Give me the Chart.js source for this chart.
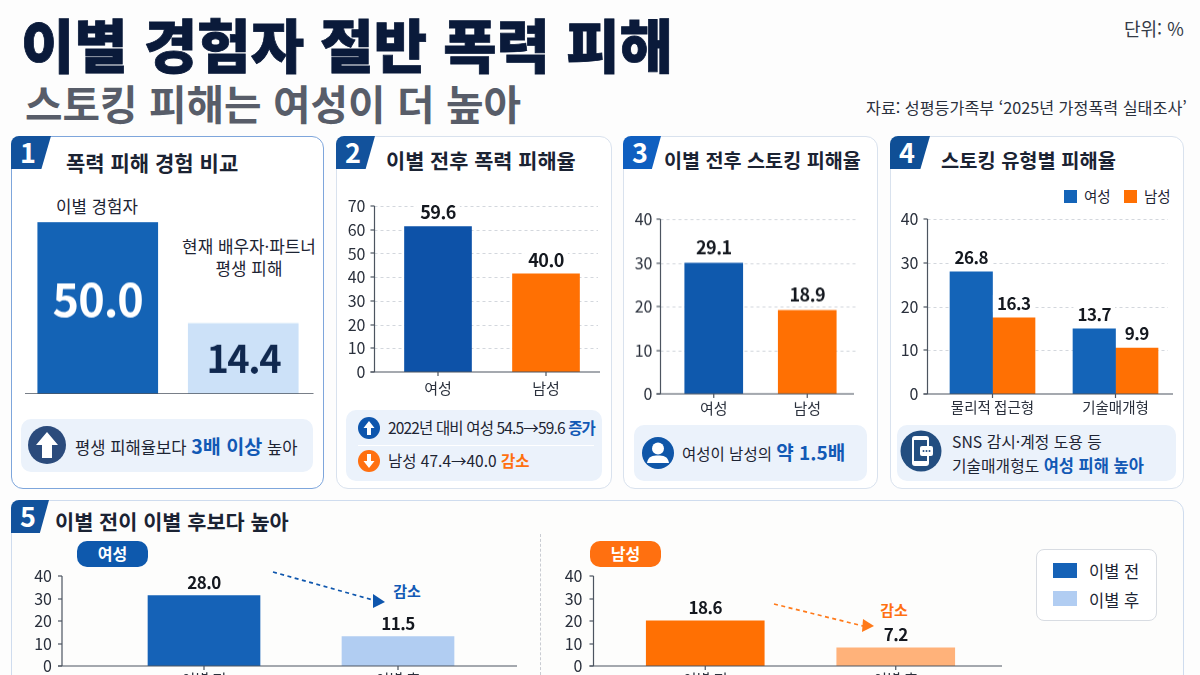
<!DOCTYPE html>
<html lang="ko">
<head>
<meta charset="utf-8">
<title>이별 경험자 절반 폭력 피해</title>
<script src="https://cdn.jsdelivr.net/npm/chart.js@4"></script>
<style>
  * { box-sizing: border-box; }
  html, body { margin: 0; padding: 0; }
  body {
    position: relative; width: 1200px; height: 675px; overflow: hidden;
    background: #fdfdfd; color: #1d2433;
    font-family: "Noto Sans CJK KR", "Noto Sans", sans-serif;
  }
  canvas { position: absolute; }
  .t { position: absolute; white-space: nowrap; line-height: 1; transform: translateY(-50%); }
  .c { position: absolute; white-space: nowrap; line-height: 1; transform: translate(-50%, -50%); text-align: center; }
  .panel { position: absolute; background: #fff; border: 1.5px solid #d9e2ee; border-radius: 12px; }
  .callout { position: absolute; background: #ebf2fb; border-radius: 10px; }
  .badge {
    position: absolute; height: 33px; color: #fff; font-weight: 700; font-size: 27px;
    background: #12529c; border-radius: 8px 0 6px 0;
    clip-path: polygon(0 0, 100% 0, 76% 100%, 0 100%);
    padding-left: 9px; line-height: 31px;
  }
  .ptitle { font-weight: 700; color: #1b2333; }
  .blue { color: #1259b5; font-weight: 700; }
  .orange { color: #ff7010; font-weight: 700; }
  .pill { position: absolute; height: 26px; width: 71px; border-radius: 10px; color: #fff; font-weight: 700; font-size: 16px; text-align: center; line-height: 25px; }
  svg { position: absolute; overflow: visible; }
</style>
</head>
<body>

<!-- 머리글 -->
<div class="t" style="left:21px;top:43px;font-size:58px;font-weight:900;color:#0a1a3a;-webkit-text-stroke:0.8px #0a1a3a">이별 경험자 절반 폭력 피해</div>
<div class="t" style="left:25px;top:103px;font-size:40.8px;font-weight:600;color:#585d69">스토킹 피해는 여성이 더 높아</div>
<div class="t" style="left:1124px;top:28px;font-size:18px;color:#333a46">단위: %</div>
<div class="t" style="left:866px;top:107px;font-size:16.2px;color:#2a303c">자료: 성평등가족부 ‘2025년 가정폭력 실태조사’</div>

<!-- 패널 틀 -->
<div class="panel" style="left:11px;top:136px;width:313px;height:353px;border-color:#7ea6dc"></div>
<div class="panel" style="left:336px;top:136px;width:276px;height:353px"></div>
<div class="panel" style="left:623px;top:136px;width:255px;height:353px"></div>
<div class="panel" style="left:890px;top:136px;width:294px;height:353px"></div>
<div class="panel" style="left:11px;top:500px;width:1173px;height:220px;background:#fdfdfc;border-color:#cfdcee"></div>

<div class="badge" style="left:11px;top:136px;width:40px">1</div>
<div class="badge" style="left:336px;top:136px;width:39px">2</div>
<div class="badge" style="left:623px;top:136px;width:38px;background:#0f5fc0">3</div>
<div class="badge" style="left:890px;top:136px;width:40px;background:#0f4f96">4</div>
<div class="badge" style="left:11px;top:500px;width:38px">5</div>

<div class="t ptitle" style="left:66px;top:162px;font-size:21px">폭력 피해 경험 비교</div>
<div class="t ptitle" style="left:386px;top:160px;font-size:20.8px">이별 전후 폭력 피해율</div>
<div class="t ptitle" style="left:664px;top:160px;font-size:19.6px">이별 전후 스토킹 피해율</div>
<div class="t ptitle" style="left:941px;top:160px;font-size:19.8px">스토킹 유형별 피해율</div>
<div class="t ptitle" style="left:55px;top:521px;font-size:20.8px">이별 전이 이별 후보다 높아</div>

<!-- 패널 1 -->
<div class="c" style="left:97px;top:206px;font-size:16.8px">이별 경험자</div>
<div class="c" style="left:249px;top:246px;font-size:16.9px">현재 배우자·파트너</div>
<div class="c" style="left:249px;top:268px;font-size:16.9px">평생 피해</div>
<div class="callout" style="left:21px;top:419px;width:292px;height:53px"></div>
<svg style="left:28px;top:426px" width="38" height="38" viewBox="0 0 38 38"><circle cx="19" cy="19" r="19" fill="#2b4b7c"/><path d="M19 6 L30 19 H24 V32 H14 V19 H8 Z" fill="#fff"/></svg>
<div class="t" style="left:75px;top:446px;font-size:16.6px">평생 피해율보다 <span class="blue" style="font-size:19.6px">3배 이상</span> 높아</div>

<!-- 패널 2 -->
<div class="callout" style="left:346px;top:410px;width:256px;height:71px"></div>
<div style="position:absolute;left:358px;top:445px;width:236px;height:1px;background:#fff"></div>
<svg style="left:358px;top:417px" width="22" height="22" viewBox="0 0 22 22"><circle cx="11" cy="11" r="11" fill="#0e56ad"/><path d="M11 4 L16.5 11 H13 V18 H9 V11 H5.5 Z" fill="#fff"/></svg>
<div class="t" style="left:388px;top:428px;font-size:15.5px;letter-spacing:-0.85px">2022년 대비 여성 54.5→59.6 <span class="blue">증가</span></div>
<svg style="left:358px;top:450px" width="22" height="22" viewBox="0 0 22 22"><circle cx="11" cy="11" r="11" fill="#ff7010"/><path d="M11 18 L16.5 11 H13 V4 H9 V11 H5.5 Z" fill="#fff"/></svg>
<div class="t" style="left:388px;top:461px;font-size:15.5px">남성 47.4→40.0 <span class="orange">감소</span></div>

<!-- 패널 3 -->
<div class="callout" style="left:634px;top:425px;width:233px;height:56px"></div>
<svg style="left:642px;top:436px" width="32" height="34" viewBox="0 0 32 34"><circle cx="16" cy="17" r="16" fill="#0f56a8"/><circle cx="16" cy="12.5" r="6" fill="#fff"/><path d="M5 27 C6 20 11 19.5 16 19.5 C21 19.5 26 20 27 27 Z" fill="#fff"/></svg>
<div class="t" style="left:682px;top:452px;font-size:15.5px">여성이 남성의 <span class="blue" style="font-size:19px">약 1.5배</span></div>

<!-- 패널 4 -->
<svg style="left:1064px;top:190px" width="13" height="13"><rect width="13" height="13" fill="#1464b8"/></svg>
<div class="t" style="left:1084px;top:196px;font-size:14.5px">여성</div>
<svg style="left:1124px;top:190px" width="13" height="13"><rect width="13" height="13" fill="#ff7003"/></svg>
<div class="t" style="left:1144px;top:196px;font-size:14.5px">남성</div>
<div class="callout" style="left:897px;top:425px;width:279px;height:56px"></div>
<svg style="left:900px;top:430px" width="42" height="42" viewBox="0 0 42 42"><circle cx="21" cy="21" r="20.5" fill="#234e80"/><rect x="12" y="6" width="17" height="30" rx="3" fill="#fff"/><rect x="14" y="10" width="13" height="21" fill="#234e80"/><rect x="20" y="16" width="13" height="10" rx="2" fill="#fff"/><circle cx="23.5" cy="21" r="1" fill="#234e80"/><circle cx="26.5" cy="21" r="1" fill="#234e80"/><circle cx="29.5" cy="21" r="1" fill="#234e80"/></svg>
<div class="t" style="left:952px;top:442px;font-size:15.8px">SNS 감시·계정 도용 등</div>
<div class="t" style="left:952px;top:465px;font-size:15.8px">기술매개형도 <span class="blue" style="font-size:16.5px">여성 피해 높아</span></div>

<!-- 패널 5 -->
<div style="position:absolute;left:540px;top:534px;height:141px;border-left:1px dashed #c9ccd2"></div>
<div class="pill" style="left:77px;top:541px;background:#0e59ad">여성</div>
<div class="pill" style="left:590px;top:541px;background:#ff7010">남성</div>
<svg style="left:0;top:0" width="1200" height="675">
  <path d="M273 572 L373 600" stroke="#0e56ad" stroke-width="1.7" stroke-dasharray="4 3.5" fill="none"/>
  <path d="M373 594 L385 602 L373 608 Z" fill="#0e56ad"/>
  <path d="M774 604 L863 626" stroke="#ff7a1a" stroke-width="1.7" stroke-dasharray="4 3.5" fill="none"/>
  <path d="M863 619 L874 626 L862 632 Z" fill="#ff7a1a"/>
</svg>
<div class="c blue" style="left:407px;top:590px;font-size:15px">감소</div>
<div class="c orange" style="left:894px;top:609px;font-size:15px">감소</div>
<div style="position:absolute;left:1036px;top:549px;width:121px;height:72px;background:#fff;border:1.5px solid #d8dce2;border-radius:8px"></div>
<svg style="left:1053px;top:563px" width="24" height="15"><rect width="24" height="15" fill="#1562b7"/></svg>
<svg style="left:1053px;top:591px" width="24" height="15"><rect width="24" height="15" fill="#b1cdf2"/></svg>
<div class="t" style="left:1089px;top:571px;font-size:16.5px">이별 전</div>
<div class="t" style="left:1089px;top:600px;font-size:16.5px">이별 후</div>

<canvas id="c1"></canvas>
<canvas id="c2"></canvas>
<canvas id="c3"></canvas>
<canvas id="c4"></canvas>
<canvas id="c5a"></canvas>
<canvas id="c5b"></canvas>

<script>
// Heights are read off each panel's axis as drawn; the printed labels are kept separately
// because the bars in the picture don't quite match the numbers printed on them.
const compareCategories = ['이별 경험자', '현재 배우자·파트너 평생 피해'];
const compareHeights = [50, 20.5];
const comparePrinted = ['50.0', '14.4'];

const genderCategories = ['여성', '남성'];
const violenceHeights = [61.3, 41.4];
const violencePrinted = ['59.6', '40.0'];
const violenceTicksMax = 70;

const stalkingHeights = [29.9, 19.1];
const stalkingPrinted = ['29.1', '18.9'];

const typeCategories = ['물리적 접근형', '기술매개형'];
const typeWomenHeights = [27.9, 14.9];
const typeMenHeights = [17.4, 10.5];
const typeWomenPrinted = ['26.8', '13.7'];
const typeMenPrinted = ['16.3', '9.9'];

const periodCategories = ['이별 전', '이별 후'];
const womenPeriodHeights = [31.3, 13.1];
const womenPeriodPrinted = ['28.0', '11.5'];
const menPeriodHeights = [20.1, 8.1];
const menPeriodPrinted = ['18.6', '7.2'];

const FONT = '"Noto Sans CJK KR", "Noto Sans", sans-serif';

// Draws the axis frame, dashed grid and value labels; the frame runs past the category slots
function framePlugin(cfg) {
  return {
    id: 'frame',
    beforeDatasetsDraw(chart) {
      const { ctx, chartArea: a, scales: { y } } = chart;
      if (!cfg.showY || cfg.noGrid) return;
      const x0 = a.left - cfg.extendLeft, x1 = a.right + cfg.extendRight;
      ctx.save();
      ctx.lineWidth = 1;
      y.ticks.forEach(t => {
        if (t.value === 0) return;
        const py = Math.round(y.getPixelForValue(t.value)) + 0.5;
        ctx.strokeStyle = '#d3d7dd';
        ctx.setLineDash([3, 3]);
        ctx.beginPath(); ctx.moveTo(x0, py); ctx.lineTo(x1, py); ctx.stroke();
      });
      ctx.restore();
    },
    afterDatasetsDraw(chart) {
      const { ctx, chartArea: a, scales: { x, y } } = chart;
      const x0 = a.left - cfg.extendLeft, x1 = a.right + cfg.extendBase;
      const base = Math.round(y.getPixelForValue(0));
      ctx.save();
      ctx.strokeStyle = '#4c5460';
      ctx.lineWidth = cfg.showY ? 1.2 : 1.5;
      ctx.beginPath(); ctx.moveTo(x0 - (cfg.showY ? 4 : 0), base); ctx.lineTo(x1, base); ctx.stroke();
      if (cfg.showY) {
        ctx.beginPath(); ctx.moveTo(x0, a.top); ctx.lineTo(x0, base); ctx.stroke();
        y.ticks.forEach(t => {
          const py = Math.round(y.getPixelForValue(t.value));
          ctx.beginPath(); ctx.moveTo(x0 - 4, py); ctx.lineTo(x0, py); ctx.stroke();
        });
        x.ticks.forEach((t, i) => {
          const px = x.getPixelForTick(i);
          ctx.beginPath(); ctx.moveTo(px, base); ctx.lineTo(px, base + 4); ctx.stroke();
        });
      }
      ctx.restore();
      // printed values
      ctx.save();
      ctx.textAlign = 'center';
      ctx.textBaseline = 'middle';
      chart.data.datasets.forEach((ds, d) => {
        chart.getDatasetMeta(d).data.forEach((bar, i) => {
          const txt = ds.printed && ds.printed[i];
          if (!txt) return;
          ctx.font = ds.printedFont || `600 ${cfg.labelSize}px ${FONT}`;
          ctx.letterSpacing = (ds.printedSpacing || 0) + 'px';
          if (ds.inside) {
            ctx.fillStyle = ds.printedColor;
            ctx.fillText(txt, bar.x, (bar.y + bar.base) / 2 + (ds.insideDy || 0));
          } else {
            const w = ctx.measureText(txt).width;
            const cy = bar.y - cfg.labelGap;
            if (!cfg.noGrid) {
              ctx.fillStyle = '#fff';
              ctx.fillRect(bar.x - w / 2 - 4, cy - cfg.labelSize / 2, w + 8, cfg.labelSize);
            }
            ctx.fillStyle = '#14181f';
            ctx.fillText(txt, bar.x, cy);
          }
        });
      });
      ctx.restore();
    }
  };
}

// area = the plot rectangle in page pixels; the canvas is placed around it
function drawBars(id, area, cfg) {
  const axisW = cfg.axisW || 0, headroom = cfg.headroom || 24, foot = cfg.foot || 0, right = 40;
  const el = document.getElementById(id);
  const w = area.right - area.left + axisW + right;
  const h = area.bottom - area.top + headroom + foot;
  el.width = w; el.height = h;
  el.style.left = (area.left - axisW) + 'px';
  el.style.top = (area.top - headroom) + 'px';
  el.style.width = w + 'px'; el.style.height = h + 'px';

  return new Chart(el, {
    type: 'bar',
    data: { labels: cfg.labels, datasets: cfg.datasets },
    plugins: [framePlugin(cfg)],
    options: {
      responsive: false,
      animation: false,
      layout: { padding: { top: headroom, right: right, left: 0, bottom: 0 } },
      plugins: { legend: { display: false }, tooltip: { enabled: false } },
      scales: {
        x: {
          stacked: !!cfg.stacked,
          display: cfg.showY,
          grid: { display: false, drawTicks: false },
          border: { display: false },
          ticks: { padding: cfg.xPad, color: '#2a303c', font: { family: FONT, size: cfg.xSize || 15 }, maxRotation: 0, autoSkip: false },
          afterFit: s => { s.height = foot; s.paddingLeft = 0; s.paddingRight = 0; }
        },
        y: {
          stacked: !!cfg.stacked,
          display: cfg.showY,
          min: 0,
          max: cfg.max,
          grid: { display: false, drawTicks: false },
          border: { display: false },
          ticks: { stepSize: 10, padding: cfg.extendLeft + cfg.yGap, color: '#2a303c', font: { family: FONT, size: 16 } },
          afterFit: s => { s.width = axisW; s.paddingTop = 0; s.paddingBottom = 0; }
        }
      }
    }
  });
}

drawBars('c1', { left: 24.5, right: 315.5, top: 222, bottom: 393.5 }, {
  labels: compareCategories, max: 50, showY: false, stacked: true, extendLeft: 2.5, extendBase: -2.5, extendRight: 0,
  datasets: [
    { data: [compareHeights[0], null], backgroundColor: '#1463b5', barThickness: 120, printed: [comparePrinted[0], null], inside: true, insideDy: -9, printedColor: '#fff', printedFont: `600 45px ${FONT}`, printedSpacing: -1 },
    { data: [null, compareHeights[1]], backgroundColor: '#cce1f8', barThickness: 110, printed: [null, comparePrinted[1]], inside: true, printedColor: '#10284f', printedFont: `700 38px ${FONT}`, printedSpacing: -1.5 }
  ]
});

drawBars('c2', { left: 383.5, right: 599.5, top: 205.5, bottom: 372 }, {
  labels: genderCategories, max: violenceTicksMax, showY: true, axisW: 50, foot: 30,
  extendLeft: 9.5, extendRight: -2, extendBase: 0, yGap: 9, xPad: 7, labelSize: 18, labelGap: 14,
  datasets: [{ data: violenceHeights, backgroundColor: ['#0d52a8', '#ff7003'], barThickness: 67, printed: violencePrinted, printedSpacing: -0.5 }]
});

drawBars('c3', { left: 667, right: 854, top: 219, bottom: 393.5 }, {
  labels: genderCategories, max: 40, showY: true, axisW: 40, foot: 28,
  extendLeft: 6.5, extendRight: 4, extendBase: 0, yGap: 8, xPad: 5, labelSize: 18, labelGap: 15.5,
  datasets: [{ data: stalkingHeights, backgroundColor: ['#0f59ad', '#ff7003'], barThickness: 58, printed: stalkingPrinted, printedSpacing: -0.5 }]
});

drawBars('c4', { left: 930.5, right: 1176.5, top: 218.5, bottom: 393.5 }, {
  labels: typeCategories, max: 40, showY: true, axisW: 40, foot: 28,
  extendLeft: 3.5, extendRight: -9, extendBase: -4, yGap: 9, xPad: 5, xSize: 14.5, labelSize: 17, labelGap: 14.5,
  datasets: [
    { data: typeWomenHeights, backgroundColor: '#1464b8', barThickness: 42.5, printed: typeWomenPrinted, printedSpacing: -0.5 },
    { data: typeMenHeights, backgroundColor: '#ff7003', barThickness: 42.5, printed: typeMenPrinted, printedSpacing: -0.5 }
  ]
});

drawBars('c5a', { left: 107, right: 495, top: 575.5, bottom: 666 }, {
  labels: periodCategories, max: 40, showY: true, noGrid: true, axisW: 80, foot: 30,
  extendLeft: 45, extendRight: 0, extendBase: 22, yGap: 10, xPad: 4, labelSize: 17, labelGap: 13,
  datasets: [{ data: womenPeriodHeights, backgroundColor: ['#1562b7', '#b1cdf2'], barThickness: 112, printed: womenPeriodPrinted, printedSpacing: -0.5 }]
});

drawBars('c5b', { left: 609.5, right: 990.5, top: 575.5, bottom: 666 }, {
  labels: periodCategories, max: 40, showY: true, noGrid: true, axisW: 45, foot: 30,
  extendLeft: 16.5, extendRight: 0, extendBase: 11, yGap: 11, xPad: 4, labelSize: 17, labelGap: 13,
  datasets: [{ data: menPeriodHeights, backgroundColor: ['#ff7003', '#ffb27a'], barThickness: 118, printed: menPeriodPrinted, printedSpacing: -0.5 }]
});
</script>
</body>
</html>
